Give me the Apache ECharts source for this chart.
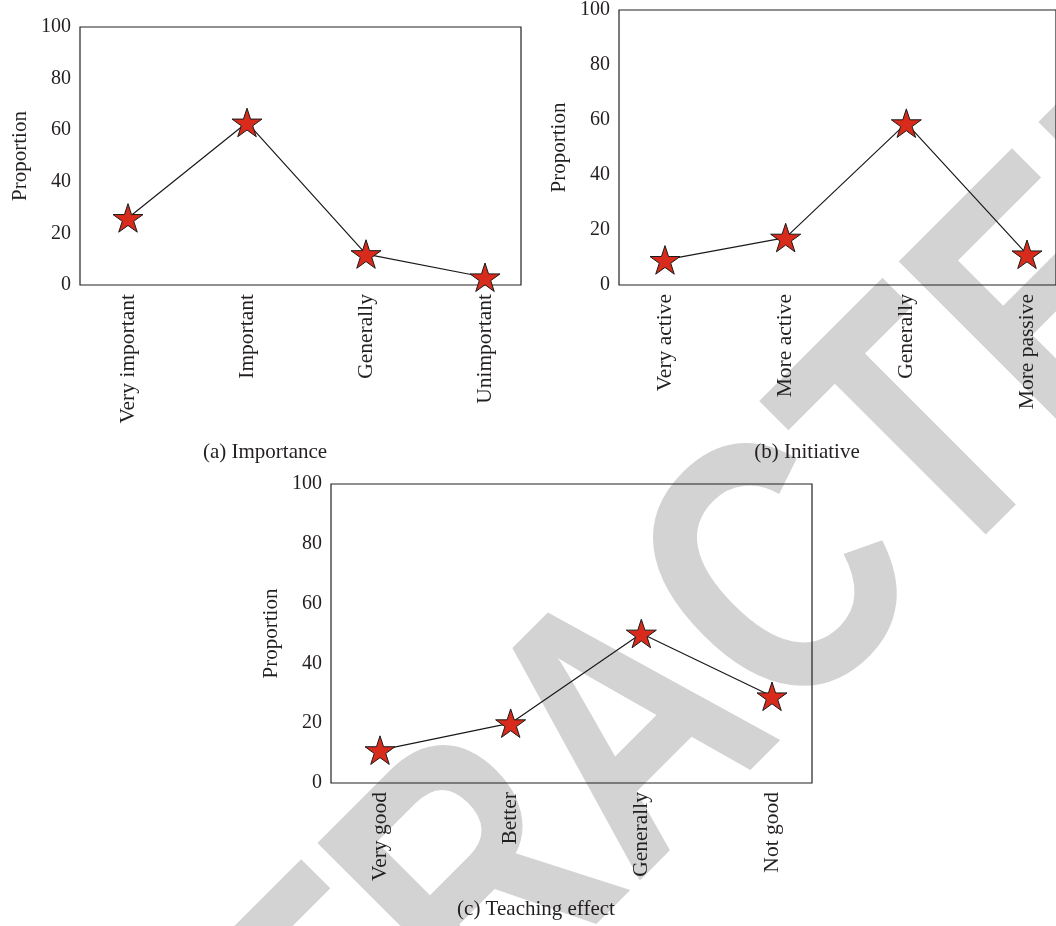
<!DOCTYPE html>
<html>
<head>
<meta charset="utf-8">
<script src="https://cdn.jsdelivr.net/npm/echarts@6/dist/echarts.min.js"></script>
<style>
html,body{margin:0;padding:0;background:#fff;}
#chart{width:1056px;height:926px;}
</style>
</head>
<body>
<div id="chart"></div>
<script>
// ---- data ----
const catsA = ['Very important', 'Important', 'Generally', 'Unimportant'];
const valsA = [26, 63, 12, 3];
const catsB = ['Very active', 'More active', 'Generally', 'More passive'];
const valsB = [9, 17, 58, 11];
const catsC = ['Very good', 'Better', 'Generally', 'Not good'];
const valsC = [11, 20, 50, 29];
const yTicks = [0, 20, 40, 60, 80, 100];
const yName = 'Proportion';
const captions = ['(a) Importance', '(b) Initiative', '(c) Teaching effect'];
const watermark = 'RETRACTED';

// ---- layout (styles only) ----
const FONT = "'Liberation Serif','DejaVu Serif',serif";
const TXT = '#231f20';
const STAR = 'path://M50 0 L61.23 34.55 L97.55 34.55 L68.17 55.9 L79.39 90.45 L50 69.1 L20.61 90.45 L31.83 55.9 L2.45 34.55 L38.77 34.55 Z';

const panels = [
  {cats: catsA, vals: valsA, box: {left: 80, top: 27, width: 441, height: 258}, data: {left: 128, width: 357}},
  {cats: catsB, vals: valsB, box: {left: 619, top: 6, width: 445, height: 279}, data: {left: 665, width: 362}},
  {cats: catsC, vals: valsC, box: {left: 331, top: 484, width: 481, height: 299}, data: {left: 380, width: 392}}
];

const grid = [], xAxis = [], yAxis = [], series = [];
panels.forEach((p, i) => {
  const bi = grid.length;
  grid.push({left: p.box.left, top: p.box.top, width: p.box.width, height: p.box.height,
    show: true, borderColor: '#222', borderWidth: 1.2, backgroundColor: 'transparent'});
  const di = grid.length;
  grid.push({left: p.data.left, top: p.box.top, width: p.data.width, height: p.box.height, show: false});
  // box axes
  xAxis.push({gridIndex: bi, type: 'category', data: p.cats, show: false});
  yAxis.push({gridIndex: bi, type: 'value', min: yTicks[0], max: yTicks[yTicks.length - 1],
    interval: yTicks[1] - yTicks[0],
    name: yName, nameLocation: 'middle', nameGap: 49, nameRotate: 90,
    nameTextStyle: {fontFamily: FONT, fontSize: 21, color: TXT},
    axisLine: {show: false}, axisTick: {show: false}, splitLine: {show: false},
    axisLabel: {fontFamily: FONT, fontSize: 20, color: TXT, margin: 9}});
  // data axes
  xAxis.push({gridIndex: di, type: 'category', data: p.cats, boundaryGap: false,
    axisLine: {show: false}, axisTick: {show: false}, splitLine: {show: false},
    axisLabel: {rotate: 90, fontFamily: FONT, fontSize: 21.5, color: TXT, margin: 9, interval: 0}});
  yAxis.push({gridIndex: di, type: 'value', min: yTicks[0], max: yTicks[yTicks.length - 1], show: false});
  series.push({type: 'line', xAxisIndex: xAxis.length - 1, yAxisIndex: yAxis.length - 1,
    data: p.vals, symbol: STAR, symbolSize: 30, symbolKeepAspect: true,
    lineStyle: {color: '#1a1a1a', width: 1.2},
    itemStyle: {color: '#d92b1c', borderColor: '#1a1a1a', borderWidth: 1},
    z: 5, animation: false});
});

const capPos = [[265, 452], [807, 452], [536, 909]];
const graphic = [
  {type: 'text', x: 638, y: 738, rotation: Math.PI / 4, scaleX: 0.8, z: -100,
   style: {text: watermark, fontFamily: "'Liberation Sans','DejaVu Sans',sans-serif", fontWeight: 'bold',
     fontSize: 370, fill: '#d3d3d3', textAlign: 'center', textVerticalAlign: 'middle'}}
];
captions.forEach((c, i) => {
  graphic.push({type: 'text', x: capPos[i][0], y: capPos[i][1],
    style: {text: c, fontFamily: FONT, fontSize: 21, fill: TXT, textAlign: 'center', textVerticalAlign: 'middle'}});
});

const chart = echarts.init(document.getElementById('chart'), null, {renderer: 'canvas'});
chart.setOption({animation: false, backgroundColor: '#fff', grid, xAxis, yAxis, series, graphic});
</script>
</body>
</html>
